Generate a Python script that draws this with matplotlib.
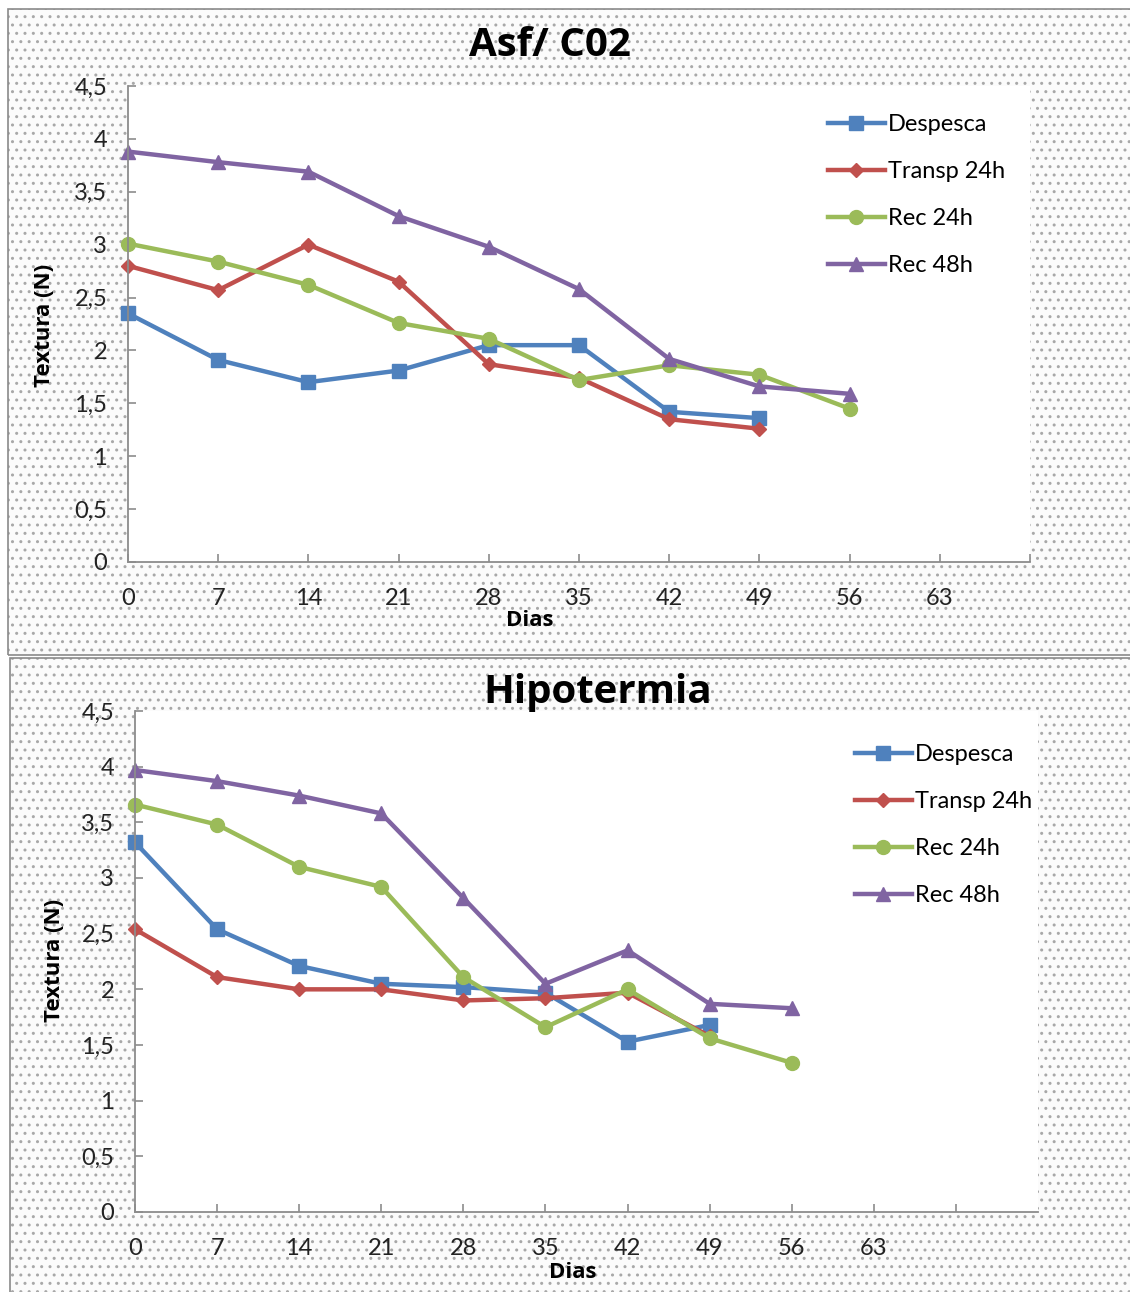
import matplotlib
matplotlib.use("Agg")
import matplotlib.pyplot as plt
from matplotlib.patches import Rectangle

# ---------------- data ----------------
dias = [0, 7, 14, 21, 28, 35, 42, 49, 56]
xtick_labels = ["0", "7", "14", "21", "28", "35", "42", "49", "56", "63", ""]
ytick_labels = ["0", "0,5", "1", "1,5", "2", "2,5", "3", "3,5", "4", "4,5"]
series_names = ["Despesca", "Transp 24h", "Rec 24h", "Rec 48h"]

# Asf/ C02
asf_despesca = [2.35, 1.91, 1.70, 1.81, 2.05, 2.05, 1.42, 1.36]
asf_transp24 = [2.80, 2.57, 3.00, 2.65, 1.87, 1.74, 1.35, 1.26]
asf_rec24 = [3.01, 2.84, 2.62, 2.26, 2.11, 1.72, 1.86, 1.77, 1.45]
asf_rec48 = [3.88, 3.78, 3.69, 3.27, 2.98, 2.58, 1.92, 1.66, 1.59]

# Hipotermia
hip_despesca = [3.32, 2.54, 2.21, 2.05, 2.02, 1.97, 1.53, 1.68]
hip_transp24 = [2.54, 2.11, 2.00, 2.00, 1.90, 1.92, 1.97, 1.58]
hip_rec24 = [3.66, 3.48, 3.10, 2.92, 2.11, 1.66, 2.00, 1.56, 1.34]
hip_rec48 = [3.97, 3.87, 3.74, 3.58, 2.82, 2.05, 2.35, 1.87, 1.83]

# ---------------- style ----------------
W, H = 1130, 1292
plt.rcParams["font.family"] = ["Lato", "DejaVu Sans"]
fig = plt.figure(figsize=(W / 100, H / 100), dpi=100)
fig.patch.set_facecolor("white")

colors = ["#4F81BD", "#C0504D", "#9BBB59", "#8064A2"]
markers = ["s", "D", "o", "^"]
msizes = [10, 7, 10, 10]
axis_gray = "#8C8C8C"
bold_font = ["Open Sans", "DejaVu Sans"]


def fx(px):
    return px / W


def fy(py):
    return 1 - py / H


def panel(x0, y0, x1, y1):
    bg = Rectangle((fx(x0), fy(y1)), fx(x1 - x0), (y1 - y0) / H,
                   transform=fig.transFigure, facecolor="#fbfbfb",
                   edgecolor="#a8a8a8", hatch="..", linewidth=0, zorder=0)
    fig.patches.append(bg)
    border = Rectangle((fx(x0), fy(y1)), fx(x1 - x0), (y1 - y0) / H,
                       transform=fig.transFigure, fill=False,
                       edgecolor="#8a8a8a", linewidth=1.2, zorder=1)
    fig.patches.append(border)


panel(8, 9, 1132, 655)
panel(10, 658, 1132, 1295)


def make_axes(rect_px, xmax, data, title, title_xy, ylab_xy, xlab_xy, leg_xy):
    x0, y0, x1, y1 = rect_px
    ax = fig.add_axes([fx(x0), fy(y1), fx(x1 - x0), (y1 - y0) / H])
    ax.set_facecolor("white")
    ax.set_zorder(2)
    for i, vals in enumerate(data):
        ax.plot(dias[:len(vals)], vals, color=colors[i], marker=markers[i],
                markersize=msizes[i], linewidth=3.2, label=series_names[i],
                solid_joinstyle="round", clip_on=False)
    ax.set_xlim(0, xmax)
    ax.set_ylim(0, 4.5)
    ax.set_xticks(range(0, 71, 7))
    ax.set_xticklabels(xtick_labels)
    ax.set_yticks([i * 0.5 for i in range(10)])
    ax.set_yticklabels(ytick_labels)
    for s in ["top", "right"]:
        ax.spines[s].set_visible(False)
    for s in ["left", "bottom"]:
        ax.spines[s].set_color(axis_gray)
        ax.spines[s].set_linewidth(1.3)
    ax.tick_params(axis="both", direction="in", length=6, width=1.2,
                   color=axis_gray, labelsize=17, labelcolor="#222222")
    ax.tick_params(axis="x", pad=19)
    ax.tick_params(axis="y", pad=15)

    fig.text(fx(title_xy[0]), fy(title_xy[1]), title, ha="center", va="center",
             fontsize=29, fontweight="bold", family=bold_font)
    fig.text(fx(ylab_xy[0]), fy(ylab_xy[1]), "Textura (N)", ha="center",
             va="center", rotation=90, fontsize=16, fontweight="bold",
             family=bold_font)
    fig.text(fx(xlab_xy[0]), fy(xlab_xy[1]), "Dias", ha="center", va="center",
             fontsize=16, fontweight="bold", family=bold_font)
    ax.legend(loc="upper left", bbox_to_anchor=(fx(leg_xy[0]), fy(leg_xy[1])),
              bbox_transform=fig.transFigure, frameon=False, fontsize=17,
              handlelength=2.4, handletextpad=0.15, labelspacing=1.1,
              borderaxespad=0, borderpad=0)
    return ax


make_axes((128, 86, 1030, 562), 70,
          [asf_despesca, asf_transp24, asf_rec24, asf_rec48],
          "Asf/ C02", (550, 45), (45, 325), (530, 621), (828, 114))
make_axes((135, 711, 1038, 1212), 77,
          [hip_despesca, hip_transp24, hip_rec24, hip_rec48],
          "Hipotermia", (598, 692), (55, 960), (573, 1273), (855, 744))

fig.savefig("out.png", dpi=100)
